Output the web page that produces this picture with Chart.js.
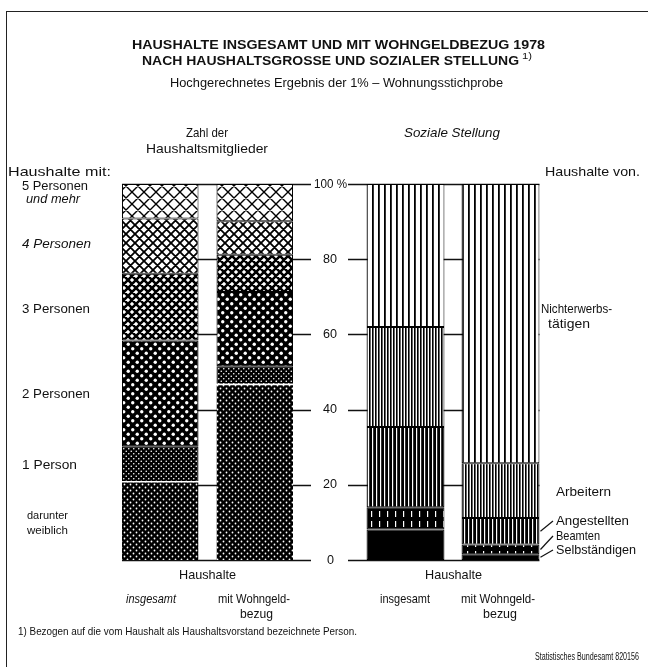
<!DOCTYPE html>
<html>
<head>
<meta charset="utf-8">
<script src="https://cdn.jsdelivr.net/npm/chart.js@4.4.1/dist/chart.umd.min.js"></script>
<style>
body { margin: 0; background: #fff; }
#wrap { position: relative; width: 648px; height: 667px; overflow: hidden; color: #111; }
#wrap canvas { position: absolute; left: 0; top: 0; }
.t { position: absolute; white-space: nowrap; line-height: 1; }
#rahmen { position: absolute; left: 6px; top: 11px; width: 660px; height: 700px; border-left: 1.5px solid #222; border-top: 1.5px solid #222; }
</style>
</head>
<body>
<div id="wrap">
  <div id="rahmen"></div>
  <canvas id="links" width="648" height="667"></canvas>
  <canvas id="rechts" width="648" height="667"></canvas>
</div>
<script>
// Balken (je Gruppe): Haushalte insgesamt / mit Wohngeldbezug
const balken = ['insgesamt', 'mit Wohngeldbezug'];

// Zahl der Haushaltsmitglieder, Anteile in %
const weiblich = [21.0, 46.9];    // 1 Person, darunter weiblich
const person1 = [9.1, 4.6];       // 1 Person, übrige
const person2 = [28.3, 19.8];
const person3 = [17.7, 9.9];
const person4 = [14.7, 8.9];
const person5 = [9.2, 9.9];

// Soziale Stellung, Anteile in %
const selbst = [8.1, 1.5];
const beamte = [5.9, 2.6];
const angest = [21.4, 7.1];
const arbeiter = [26.6, 14.5];
const nichterw = [38.0, 74.3];

const achsenWerte = [0, 20, 40, 60, 80, 100];
const achsenText = ['0', '20', '40', '60', '80', '100 %'];

const FAMILIE = "'Liberation Sans', 'DejaVu Sans', sans-serif";
const wrap = document.getElementById('wrap');

function muster(w, h, zeichne) {
    const c = document.createElement('canvas');
    c.width = w; c.height = h;
    const g = c.getContext('2d');
    zeichne(g, w, h);
    return g.createPattern(c, 'repeat');
}

function gitter(s, lw) {
    return muster(s, s, (g) => {
        g.fillStyle = '#fff'; g.fillRect(0, 0, s, s);
        g.strokeStyle = '#000'; g.lineWidth = lw;
        g.beginPath();
        for (let k = -1; k <= 1; k++) {
            g.moveTo(k * s - s, -s); g.lineTo(k * s + 2 * s, 2 * s);
            g.moveTo(k * s + 2 * s, -s); g.lineTo(k * s - s, 2 * s);
        }
        g.stroke();
    });
}

function punkte(s, r) {
    return muster(s, s, (g) => {
        g.fillStyle = '#000'; g.fillRect(0, 0, s, s);
        g.fillStyle = '#fff';
        [[s / 4, s / 4], [3 * s / 4, 3 * s / 4]].forEach(([x, y]) => {
            g.beginPath(); g.arc(x, y, r, 0, Math.PI * 2); g.fill();
        });
    });
}

function streifen(s, schwarz, weissGrund) {
    return muster(s, 1, (g) => {
        g.fillStyle = weissGrund ? '#fff' : '#000'; g.fillRect(0, 0, s, 1);
        g.fillStyle = weissGrund ? '#000' : '#fff'; g.fillRect(0, 0, schwarz, 1);
    });
}

const mBeamte = muster(8, 10, (g) => {
    g.fillStyle = '#000'; g.fillRect(0, 0, 8, 10);
    g.fillStyle = '#fff'; g.fillRect(3, 1, 1.2, 6);
});

const gemeinsam = { borderColor: '#000', borderWidth: 1, borderSkipped: false };

function gitterLinien(links) {
    return {
        id: 'gitterLinien',
        beforeDatasetsDraw(chart) {
            const ctx = chart.ctx, y = chart.scales.y, area = chart.chartArea;
            const metas = chart.getSortedVisibleDatasetMetas();
            const bars = metas[0].data;
            const x0 = links ? bars[0].x - bars[0].width / 2 : area.left - 10;
            const x1 = links ? area.right + 9 : bars[1].x + bars[1].width / 2;
            ctx.save();
            ctx.strokeStyle = '#111';
            ctx.lineWidth = 1.5;
            achsenWerte.forEach((v) => {
                const py = Math.round(y.getPixelForValue(v)) + 0.5;
                ctx.beginPath(); ctx.moveTo(x0, py); ctx.lineTo(x1, py); ctx.stroke();
            });
            ctx.restore();
        }
    };
}

const links = new Chart(document.getElementById('links'), {
    type: 'bar',
    data: {
        labels: balken,
        datasets: [
            { label: 'darunter weiblich', data: weiblich, backgroundColor: punkte(6, 0.9), borderColor: '#fff', borderWidth: { top: 1.5, left: 0, right: 0, bottom: 0 }, borderSkipped: false },
            { label: '1 Person', data: person1, backgroundColor: punkte(5, 0.8), ...gemeinsam, borderWidth: { top: 1, left: 1, right: 1, bottom: 0 } },
            { label: '2 Personen', data: person2, backgroundColor: punkte(9, 1.7), ...gemeinsam },
            { label: '3 Personen', data: person3, backgroundColor: gitter(8, 2.6), ...gemeinsam },
            { label: '4 Personen', data: person4, backgroundColor: gitter(9, 1.8), ...gemeinsam },
            { label: '5 Personen und mehr', data: person5, backgroundColor: gitter(12, 1.4), ...gemeinsam }
        ]
    },
    options: {
        responsive: false,
        animation: false,
        layout: { padding: { left: 113, right: 346, top: 184, bottom: 107 } },
        datasets: { bar: { categoryPercentage: 1, barPercentage: 0.81 } },
        plugins: { legend: { display: false }, tooltip: { enabled: false } },
        scales: {
            x: { stacked: true, display: false },
            y: { stacked: true, display: false, min: 0, max: 100 }
        }
    },
    plugins: [gitterLinien(true)]
});

const rechts = new Chart(document.getElementById('rechts'), {
    type: 'bar',
    data: {
        labels: balken,
        datasets: [
            { label: 'Selbständigen', data: selbst, backgroundColor: '#000', ...gemeinsam },
            { label: 'Beamten', data: beamte, backgroundColor: mBeamte, ...gemeinsam },
            { label: 'Angestellten', data: angest, backgroundColor: streifen(4.5, 1.2, false), ...gemeinsam },
            { label: 'Arbeitern', data: arbeiter, backgroundColor: streifen(3.5, 1.6, true), ...gemeinsam },
            { label: 'Nichterwerbstätigen', data: nichterw, backgroundColor: streifen(6, 1.8, true), ...gemeinsam }
        ]
    },
    options: {
        responsive: false,
        animation: false,
        layout: { padding: { left: 358, right: 100, top: 184, bottom: 107 } },
        datasets: { bar: { categoryPercentage: 1, barPercentage: 0.82 } },
        plugins: { legend: { display: false }, tooltip: { enabled: false } },
        scales: {
            x: { stacked: true, display: false },
            y: { stacked: true, display: false, min: 0, max: 100 }
        }
    },
    plugins: [gitterLinien(false), {
        id: 'hinweise',
        afterDraw(chart) {
            // Hinweislinien von den kleinen Segmenten zur Beschriftung
            const ctx = chart.ctx;
            const ziele = [[2, 521], [1, 536], [0, 550]];
            ctx.save();
            ctx.strokeStyle = '#111'; ctx.lineWidth = 1.2;
            ziele.forEach(([i, ty]) => {
                const bar = chart.getDatasetMeta(i).data[1];
                const x = bar.x + bar.width / 2 + 1;
                const y = (bar.y + bar.base) / 2;
                ctx.beginPath(); ctx.moveTo(x, y); ctx.lineTo(553, ty); ctx.stroke();
            });
            ctx.restore();
        }
    }]
});

// Beschriftungen
const mess = document.createElement('canvas').getContext('2d');
function text(str, x, y, o = {}) {
    const size = o.size || 13;
    const font = `${o.style || 'normal'} ${o.weight || 'normal'} ${size}px ${FAMILIE}`;
    mess.font = font;
    const w = mess.measureText(str).width;
    const sx = o.w ? o.w / w : 0.9;
    const breite = w * sx;
    let left = x;
    if (o.align === 'center') left = x - breite / 2;
    else if (o.align === 'right') left = x - breite;
    const d = document.createElement('div');
    d.className = 't';
    d.textContent = str;
    d.style.font = font;
    d.style.lineHeight = '1';
    d.style.left = left + 'px';
    d.style.top = (y - size * 0.55) + 'px';
    d.style.transformOrigin = '0 0';
    d.style.transform = `scaleX(${sx})`;
    wrap.appendChild(d);
}

text('HAUSHALTE INSGESAMT UND MIT WOHNGELDBEZUG 1978', 132, 45, { size: 13.5, weight: 'bold', w: 413 });
text('NACH HAUSHALTSGROSSE UND SOZIALER STELLUNG', 142, 61, { size: 13.5, weight: 'bold', w: 377 });
text('1)', 522, 57, { size: 9, w: 10 });
text('Hochgerechnetes Ergebnis der 1% – Wohnungsstichprobe', 170, 84, { size: 12, w: 333 });

text('Zahl der', 207, 133, { align: 'center', w: 42 });
text('Haushaltsmitglieder', 207, 149, { align: 'center', w: 122 });
text('Soziale Stellung', 452, 133, { align: 'center', style: 'italic', w: 96 });
text('Haushalte mit:', 8, 172, { w: 103 });
text('Haushalte von.', 640, 172, { align: 'right', w: 95 });

text('5 Personen', 22, 186, { w: 66 });
text('und mehr', 26, 199, { style: 'italic', w: 54 });
text('4 Personen', 22, 244, { style: 'italic', w: 69 });
text('3 Personen', 22, 309, { w: 68 });
text('2 Personen', 22, 394, { w: 68 });
text('1 Person', 22, 465, { w: 55 });
text('darunter', 27, 516, { size: 11, w: 41 });
text('weiblich', 27, 531, { size: 11, w: 41 });

text('Nichterwerbs-', 541, 309, { w: 71 });
text('tätigen', 548, 324, { w: 42 });
text('Arbeitern', 556, 492, { w: 55 });
text('Angestellten', 556, 521, { w: 73 });
text('Beamten', 556, 536, { w: 44 });
text('Selbständigen', 556, 550, { w: 80 });

// Achsenbeschriftung in der Mitte, über die y-Skala positioniert
const ySkala = links.scales.y;
achsenWerte.forEach((v, i) => {
    const breit = achsenText[i].length > 2 ? 33 : achsenText[i].length * 7;
    text(achsenText[i], 330, ySkala.getPixelForValue(v), { size: 13.5, align: 'center', w: breit });
});

[207, 453].forEach((cx) => {
    text('Haushalte', cx, 575, { align: 'center', w: 57 });
});
text('insgesamt', 151, 599, { align: 'center', style: 'italic', w: 50 });
text('mit Wohngeld-', 254, 599, { align: 'center', w: 72 });
text('bezug', 256, 614, { align: 'center', w: 33 });
text('insgesamt', 405, 599, { align: 'center', w: 50 });
text('mit Wohngeld-', 498, 599, { align: 'center', w: 74 });
text('bezug', 500, 614, { align: 'center', w: 34 });

text('1) Bezogen auf die vom Haushalt als Haushaltsvorstand bezeichnete Person.', 18, 632, { size: 11.5, w: 339 });
text('Statistisches Bundesamt 820156', 639, 657, { size: 10, align: 'right', w: 104 });
</script>
</body>
</html>
